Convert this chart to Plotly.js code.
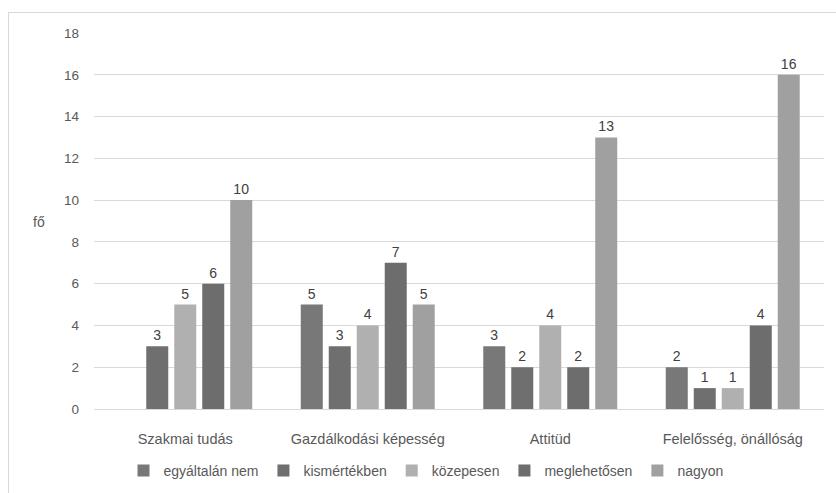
<!DOCTYPE html>
<html>
<head>
<meta charset="utf-8">
<script src="https://cdn.plot.ly/plotly-3.0.1.min.js"></script>
<style>
html,body{margin:0;padding:0;background:#fff;}
#frame{position:absolute;left:8px;top:12px;width:840px;height:500px;border-left:1px solid #d9d9d9;border-top:1px solid #d9d9d9;}
#chart{position:absolute;left:0;top:0;width:836px;height:493px;}
</style>
</head>
<body>
<div id="frame"></div>
<div id="chart"></div>
<script>
const categories = ["Szakmai tudás", "Gazdálkodási képesség", "Attitüd", "Felelősség, önállóság"];
const seriesNames = ["egyáltalán nem", "kismértékben", "közepesen", "meglehetősen", "nagyon"];
const egyaltalanNem = [0, 5, 3, 2];
const kismertekben = [3, 3, 2, 1];
const kozepesen = [5, 4, 4, 1];
const meglehetosen = [6, 7, 2, 4];
const nagyon = [10, 5, 13, 16];
const yTicks = [0, 2, 4, 6, 8, 10, 12, 14, 16, 18];

const values = [egyaltalanNem, kismertekben, kozepesen, meglehetosen, nagyon];
const colors = ["#787878", "#6f6f6f", "#b0b0b0", "#6d6d6d", "#a0a0a0"];
const font = "Liberation Sans, Arial, sans-serif";

const traces = values.map((v, i) => ({
  type: "bar",
  name: seriesNames[i],
  x: categories,
  y: v,
  text: v.map(n => n === 0 ? "" : String(n)),
  textposition: "outside",
  cliponaxis: false,
  textfont: {family: font, size: 14, color: "#404040"},
  marker: {color: colors[i]},
  hoverinfo: "skip"
}));

const layout = {
  width: 836, height: 493,
  margin: {l: 94, r: 12, t: 33, b: 83.5},
  paper_bgcolor: "rgba(0,0,0,0)",
  plot_bgcolor: "rgba(0,0,0,0)",
  barmode: "group",
  bargap: 0.233,
  bargroupgap: 0.214,
  font: {family: font, size: 14, color: "#595959"},
  showlegend: true,
  legend: {
    orientation: "h", x: 426 / 836, xanchor: "center", xref: "container",
    y: 22 / 493, yanchor: "middle", yref: "container",
    font: {family: font, size: 14, color: "#595959"},
    itemwidth: 30, tracegroupgap: 0
  },
  xaxis: {
    type: "category",
    showgrid: false,
    showline: true, linecolor: "#d9d9d9", linewidth: 1,
    ticks: "", ticklabelstandoff: 17,
    tickfont: {family: font, size: 14.5, color: "#595959"}
  },
  yaxis: {
    range: [0, 18],
    tickvals: yTicks,
    ticktext: yTicks.map(String),
    showgrid: true, gridcolor: "#d9d9d9", gridwidth: 1,
    zeroline: false, showline: false,
    ticks: "", ticklabelstandoff: 14,
    tickfont: {family: font, size: 13.5, color: "#595959"}
  },
  annotations: [{
    text: "fő", xref: "paper", yref: "paper",
    x: (39 - 94) / 730, y: (409.5 - 222) / 376,
    xanchor: "center", yanchor: "middle", showarrow: false,
    font: {family: font, size: 14, color: "#595959"}
  }]
};

Plotly.newPlot("chart", traces, layout, {displayModeBar: false, staticPlot: true});
</script>
</body>
</html>
